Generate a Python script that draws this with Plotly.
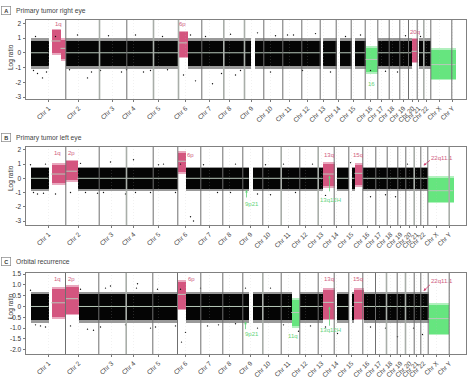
import plotly.graph_objects as go

W, H = 468, 378
PINK, GREEN, BLACK = "#d4557f", "#66e57f", "#050505"
CHR = [f"Chr {i}" for i in range(1, 23)] + ["Chr X", "Chr Y"]

# x = position along the genome (same scale as panel width, 0..440); y = log ratio
# Panel A
A_edges = [40.3,74,101.3,128,153,176.3,198.3,219,238.3,257.3,276.3,294.7,310.7,325.7,339.7,352.3,363.7,374.3,383,391.7,398.3,405.3,426.3]
A_thick = [74,128,153,198.3,219,398.3]
A_ticks = [23,53,87,108,133,160,184,204,226,245,264,282,298,313,328,345,356,367,378,387,393,401,414,427]
A_start = [5.3,40.3,161.7,229,297.3,313.5,329,352.3,393.3]
A_end   = [23,153,225,294.7,310.7,325.7,339.7,386,405.3]
A_hot_start = [25.7,35,153,386,339.7,405.3]
A_hot_end   = [35,40.3,161.7,391.7,352.3,430]
A_hot_low   = [-0.15,-0.55,-0.38,-0.7,-1.44,-1.85]
A_hot_high  = [1.64,1.0,1.5,1.03,0.45,0.3]
A_hot_med   = [0.8,0.3,0.67,0.1,-0.45,-0.8]
A_hot_kind  = ["gain","gain","gain","gain","loss","loss"]
A_out_x = [12,17,21,8,44,62,75,96,101,118,125,142,158,170,187,196,210,215,232,250,262,277,290,305,320,335,345,360,372,380,395,10,30,52,66,83,110,137,165,180,205,245,268]
A_out_y = [-1.4,-1.7,-1.3,-1.2,-1.15,-1.7,-1.2,-1.3,-1.15,-1.3,-1.2,-1.15,-1.5,-1.9,-2.1,-1.4,-1.5,-1.2,1.35,1.15,1.2,-1.2,1.3,-1.3,1.1,1.2,-1.2,-1.25,-1.3,1.15,1.1,1.1,1.1,1.2,-1.3,1.15,1.2,1.1,1.2,1.1,1.25,-1.3,1.2]
A_lab = [("1q",33,1.93,"gain"),("6p",157,1.93,"gain"),("20q",389,1.44,"gain"),("16",345.7,-2.1,"loss")]

# Panel B
B_edges = [40.3,73.7,101,127.7,152.3,175.3,197.3,217.3,237.3,255.7,274.3,292.7,308.7,323.3,337.3,350.3,361.7,372.3,380.3,388.7,395.3,402.3,423.7]
B_thick = [101,255.7,292.7,388.7,423.7]
B_ticks = [23,53,86,108,133,160,184,204,225,243,263,280,296,311,326,342,354,365,375,384,391,398,411,424]
B_start = [5.3,51.7,160.3,227.3,311,326.3,337.3]
B_end   = [23,152.3,223.3,297.3,323.3,329,402.3]
B_hot_start = [25.7,40.3,152.3,297.3,329,402.3]
B_hot_end   = [40.3,51.7,160.3,308.7,337.3,427.7]
B_hot_low   = [-0.45,-0.26,0.3,-0.68,-0.6,-1.74]
B_hot_high  = [1.08,1.3,1.9,1.15,1.08,0.14]
B_hot_med   = [0.3,0.5,1.2,0.3,0.35,-0.87]
B_hot_kind  = ["gain","gain","gain","gain","gain","loss"]
B_out_x = [12,8,18,30,45,60,72,85,100,110,125,138,150,165,168,178,192,210,232,245,258,270,287,300,325,345,360,370,382,5,20,55,78,108,133,155,205,240]
B_out_y = [-1.1,-1.0,-1.05,-1.1,-1.0,-1.0,-1.05,1.15,-1.1,-1.0,-1.0,1.0,-1.0,-2.7,-3.0,0.95,-1.0,1.0,-1.1,-1.15,1.0,-1.0,1.0,-1.2,1.1,-1.3,-1.15,-1.3,1.0,0.95,1.0,1.05,-1.0,1.3,0.95,1.0,-1.0,0.95]

# Panel C
C_edges = [40,73.3,100.7,127.3,152,175.3,197.3,217.3,237.3,255.7,274.3,292.7,308.7,323.3,337.3,350,361,371.7,380,388.7,395.3,402.7,423.7]
C_thick = [100.7,237.3,361,380]
C_ticks = [23,53,86,108,133,160,184,204,225,243,263,280,296,311,326,342,354,365,375,384,391,398,411,424]
C_start = [5.3,52.7,160.3,227,274,311,326.3,337.7]
C_end   = [23,152,223,265.7,297.3,323.3,328.3,402.7]
C_hot_start = [25.7,40,152,265.7,297.3,328.3,402.7]
C_hot_end   = [40,52.7,160.3,274,308.7,337.7,423.3]
C_hot_low   = [-0.56,-0.4,-0.17,-1.0,-0.64,-0.64,-1.34]
C_hot_high  = [0.89,1.0,1.23,0.37,0.84,0.84,0.14]
C_hot_med   = [0.17,0.36,0.56,-0.28,0.19,0.19,-0.56]
C_hot_kind  = ["gain","gain","gain","loss","gain","gain","loss"]
C_out_x = [10,15,20,45,62,68,75,85,100,112,125,130,150,156,160,182,193,210,232,245,258,273,285,300,312,345,360,372,388,5,55,80,111,132,155,175,220,397]
C_out_y = [-0.85,-0.9,-0.95,-0.9,-1.05,-1.1,-0.95,0.95,-0.85,1.05,-1.0,-0.95,-0.9,-1.65,-1.2,-0.9,-0.85,-0.8,-1.0,0.85,-0.85,-1.15,-0.9,-0.95,-1.25,-0.95,-1.0,-1.4,-1.0,0.75,0.8,0.85,0.85,0.8,0.8,0.85,0.85,-1.3]

panels = [
 dict(n=1, top=20, bottom=99, yr=(-3.13, 2.22), yt=[2,1,0,-1,-2,-3], yl=["2","1","0","-1","-2","-3"], band=(-0.88,0.82), fr=(-1.08,1.0),
      edges=A_edges, thick=A_thick, ticks=A_ticks, s=A_start, e=A_end, hs=A_hot_start, he=A_hot_end, hl=A_hot_low, hh=A_hot_high, hm=A_hot_med, hk=A_hot_kind, ox=A_out_x, oy=A_out_y),
 dict(n=2, top=147, bottom=225, yr=(-3.28, 2.2), yt=[2,1,0,-1,-2,-3], yl=["2","1","0","-1","-2","-3"], band=(-0.74,0.7), fr=(-0.9,0.82),
      edges=B_edges, thick=B_thick, ticks=B_ticks, s=B_start, e=B_end, hs=B_hot_start, he=B_hot_end, hl=B_hot_low, hh=B_hot_high, hm=B_hot_med, hk=B_hot_kind, ox=B_out_x, oy=B_out_y),
 dict(n=3, top=273, bottom=354, yr=(-2.2, 1.55), yt=[1.5,1,0.5,0,-0.5,-1,-1.5,-2], yl=["1.5","1.0","0.5","0","-0.5","-1.0","-1.5","-2.0"], band=(-0.64,0.58), fr=(-0.78,0.68),
      edges=C_edges, thick=C_thick, ticks=C_ticks, s=C_start, e=C_end, hs=C_hot_start, he=C_hot_end, hl=C_hot_low, hh=C_hot_high, hm=C_hot_med, hk=C_hot_kind, ox=C_out_x, oy=C_out_y),
]

fig = go.Figure()
L, R = 25.5, 465.5
FONT = "Liberation Sans"
annos = []
layout = {}

for p in panels:
    n = p["n"]
    ax = "" if n == 1 else str(n)
    xa, ya = f"x{ax}", f"y{ax}"
    kw = dict(xaxis=xa, yaxis=ya, showlegend=False, hoverinfo="skip")
    centers = [(a+b)/2 for a, b in zip(p["s"], p["e"])]
    widths = [b-a for a, b in zip(p["s"], p["e"])]
    # black clouds: thin edge, dense core
    lo0, hi0 = p["fr"]; lo1, hi1 = p["band"]
    for (lo, hi), op in (((lo0, hi0), 0.4), ((lo1, hi1), 1.0)):
        fig.add_bar(x=centers, width=widths, base=[lo]*len(centers), y=[hi-lo]*len(centers),
                    marker=dict(color=BLACK, line_width=0), opacity=op, **kw)
    fig.add_scatter(x=p["ox"], y=p["oy"], mode="markers", marker=dict(color="#111", size=1.4), **kw)
    # gains and losses: thin edge, dense core
    span = p["yr"][1]-p["yr"][0]
    for kind, col in (("gain", PINK), ("loss", GREEN)):
        idx = [i for i, k in enumerate(p["hk"]) if k == kind]
        cx = [(p["hs"][i]+p["he"][i])/2 for i in idx]
        cw = [p["he"][i]-p["hs"][i] for i in idx]
        fig.add_bar(x=cx, width=cw, base=[p["hl"][i] for i in idx], y=[p["hh"][i]-p["hl"][i] for i in idx],
                    marker=dict(color=col, line_width=0), opacity=0.5, **kw)
        d = span*0.02
        fig.add_bar(x=cx, width=cw, base=[p["hl"][i]+d for i in idx], y=[p["hh"][i]-p["hl"][i]-2*d for i in idx],
                    marker=dict(color=col, line_width=0), **kw)
    # median lines
    mx, my = [], []
    for a, b in zip(p["s"], p["e"]):
        mx += [a, b, None]; my += [0, 0, None]
    for a, b, m in zip(p["hs"], p["he"], p["hm"]):
        mx += [a, b, None]; my += [m, m, None]
    fig.add_scatter(x=mx, y=my, mode="lines", line=dict(color="#b9c9bb", width=1), **kw)
    # faint centromere marks
    xs, ys = [], []
    for v in p["ticks"]:
        xs += [v, v, None]; ys += [p["yr"][0], p["yr"][1], None]
    fig.add_scatter(x=xs, y=ys, mode="lines", line=dict(color="#bbbbbb", width=0.5, dash="1px,2px"), opacity=0.4, **kw)
    # chromosome boundaries
    thin = [v for v in p["edges"] if v not in p["thick"]]
    for vals, c, w in ((thin, "#6f6f6f", 1), (p["thick"], "#a9aea9", 1.6)):
        xs, ys = [], []
        for v in vals:
            xs += [v, v, None]; ys += [p["yr"][0], p["yr"][1], None]
        fig.add_scatter(x=xs, y=ys, mode="lines", line=dict(color=c, width=w), **kw)
    dom_y = [1-p["bottom"]/H, 1-p["top"]/H]
    layout[f"xaxis{ax}"] = dict(domain=[L/W, R/W], range=[0, 440], tickmode="array", tickvals=p["ticks"], ticktext=CHR, tickangle=-45,
        tickfont=dict(size=6.5, color="#444", family=FONT), ticks="outside", ticklen=2, tickwidth=0.7, tickcolor="#777", showgrid=False, zeroline=False,
        showline=True, linecolor="#808080", linewidth=1, mirror=True, anchor=ya, automargin=False)
    layout[f"yaxis{ax}"] = dict(domain=dom_y, range=list(p["yr"]), tickmode="array", tickvals=p["yt"], ticktext=p["yl"],
        tickfont=dict(size=6.5, color="#333", family=FONT), ticks="outside", ticklen=2, tickwidth=0.7, tickcolor="#777", showgrid=False, zeroline=False,
        showline=True, linecolor="#808080", linewidth=1, mirror=True, anchor=xa, automargin=False)

def txt(x, y, s, color="#444", size=6.5, xa="paper", ya="paper", xanchor="center", **k):
    annos.append(dict(x=x, y=y, text=s, showarrow=False, xref=xa, yref=ya, xanchor=xanchor, yanchor="middle", font=dict(size=size, color=color, family=FONT), **k))

TITLES = [("A", "Primary tumor right eye", 10.5), ("B", "Primary tumor left eye", 137.5), ("C", "Orbital recurrence", 261.5)]
for let, t, py in TITLES:
    annos.append(dict(x=6/W, y=1-py/H, xref="paper", yref="paper", text=f"<b>{let}</b>", showarrow=False, xanchor="center", yanchor="middle",
                      font=dict(size=5.5, color="#333", family=FONT), bordercolor="#888", borderwidth=0.7, borderpad=1, width=7, height=6))
    txt(13.5/W, 1-py/H, t, size=6.7, color="#444", xanchor="left")
for py in (57, 178, 306):
    txt(11/W, 1-py/H, "Log ratio", size=6.5, textangle=-90, color="#333")

GAIN_TXT, LOSS_TXT = "#cf5c82", "#63d37b"
for s, x, y, k in A_lab:
    txt(x, y, s, GAIN_TXT if k == "gain" else LOSS_TXT, 6, "x", "y")
for s, x, y, c in [("1q",32,1.8,GAIN_TXT),("2p",46,1.8,GAIN_TXT),("6p",165,1.65,GAIN_TXT),("13q",303,1.65,GAIN_TXT),("15q",332,1.65,GAIN_TXT),
                   ("22q11.1",416,1.46,GAIN_TXT),("9p21",226,-1.82,LOSS_TXT),("13q12H",305,-1.53,LOSS_TXT)]:
    txt(x, y, s, c, 6, "x2", "y2")
for s, x, y, c in [("1q",32,1.26,GAIN_TXT),("2p",46,1.26,GAIN_TXT),("6p",165.5,1.26,GAIN_TXT),("13q",303,1.26,GAIN_TXT),("15q",332,1.26,GAIN_TXT),
                   ("22q11.1",416,1.2,GAIN_TXT),("9p21",226,-1.27,LOSS_TXT),("11q",267,-1.36,LOSS_TXT),("13q12H",305,-1.08,LOSS_TXT)]:
    txt(x, y, s, c, 6, "x3", "y3")

def arrow(x, y, ax, ay, c, xa, ya):
    annos.append(dict(x=x, y=y, ax=ax, ay=ay, xref=xa, yref=ya, axref=xa, ayref=ya, text="", showarrow=True, arrowhead=2, arrowsize=0.7, arrowwidth=0.8, arrowcolor=c))
arrow(398, 0.9, 406, 1.35, "#cf3f70", "x2", "y2")
arrow(398, 0.72, 406, 1.07, "#cf3f70", "x3", "y3")
arrow(304, 0.2, 304, -1.02, "#63d37b", "x2", "y2")
arrow(304, 0.0, 304, -0.96, "#63d37b", "x3", "y3")
arrow(221, -0.8, 221, -1.45, "#63d37b", "x2", "y2")
arrow(220, -0.69, 220, -1.12, "#63d37b", "x3", "y3")

fig.update_layout(width=W, height=H, autosize=False, margin=dict(l=0, r=0, t=0, b=0, autoexpand=False), paper_bgcolor="white", plot_bgcolor="white",
                  barmode="overlay", bargap=0, annotations=annos, showlegend=False, **layout)
fig.write_html("out.html", config=dict(displayModeBar=False), post_script="document.body.style.margin='0';document.body.style.overflow='hidden';")
